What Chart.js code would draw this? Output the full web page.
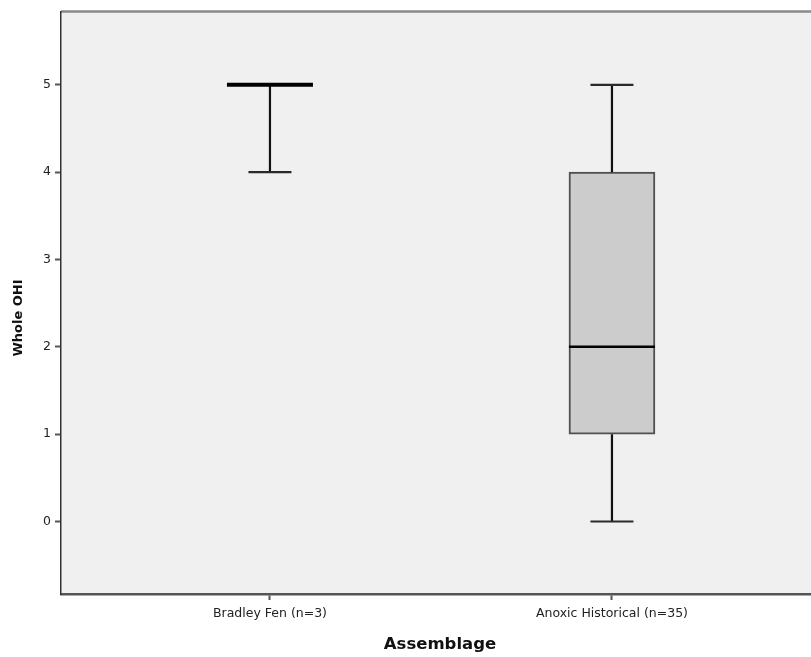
<!DOCTYPE html>
<html>
<head>
<meta charset="utf-8">
<script src="https://cdn.jsdelivr.net/npm/chart.js@4/dist/chart.umd.min.js"></script>
<style>
    html, body { margin: 0; padding: 0; background: #fff; }
    #wrap { width: 811px; height: 657px; }
</style>
</head>
<body>
<div id="wrap"><canvas id="ohiChart" width="811" height="657"></canvas></div>
<script>
/* ------- 数据 ------- */
const categories = ['Bradley Fen (n=3)', 'Anoxic Historical (n=35)'];
const whiskerLow = [4, 0];
const q1Values = [5, 1];
const medianValues = [5, 2];
const q3Values = [5, 4];
const whiskerHigh = [5, 5];
const yTicks = [0, 1, 2, 3, 4, 5];

const FONT = '"DejaVu Sans", sans-serif';
const BOX_W = 86;   // 箱体宽度 px
const CAP_W = 43;   // 须线端帽宽度 px

/* ------- 箱线图绘制插件 ------- */
const boxPlotPlugin = {
    id: 'boxPlot',
    beforeDraw(chart) {
        const { ctx, chartArea: a } = chart;
        ctx.save();
        ctx.fillStyle = '#f0f0f0';
        ctx.fillRect(a.left, a.top, a.right - a.left, a.bottom - a.top);
        // 顶部边框
        ctx.strokeStyle = '#8a8a8a';
        ctx.lineWidth = 2.5;
        ctx.beginPath();
        ctx.moveTo(a.left, a.top);
        ctx.lineTo(a.right, a.top);
        ctx.stroke();
        ctx.restore();
    },
    afterDatasetsDraw(chart) {
        const { ctx, scales: { x, y } } = chart;
        ctx.save();
        categories.forEach((_, i) => {
            const cx = x.getPixelForValue(i);
            const yLo = y.getPixelForValue(whiskerLow[i]);
            const yQ1 = y.getPixelForValue(q1Values[i]);
            const yMed = y.getPixelForValue(medianValues[i]);
            const yQ3 = y.getPixelForValue(q3Values[i]);
            const yHi = y.getPixelForValue(whiskerHigh[i]);

            // 须线
            ctx.strokeStyle = '#111';
            ctx.lineWidth = 2.2;
            ctx.beginPath();
            ctx.moveTo(cx, yQ3); ctx.lineTo(cx, yHi);
            ctx.moveTo(cx, yQ1); ctx.lineTo(cx, yLo);
            ctx.stroke();

            // 端帽
            ctx.strokeStyle = '#2a2a2a';
            ctx.lineWidth = 2.2;
            ctx.beginPath();
            ctx.moveTo(cx - CAP_W / 2, yHi); ctx.lineTo(cx + CAP_W / 2, yHi);
            ctx.moveTo(cx - CAP_W / 2, yLo); ctx.lineTo(cx + CAP_W / 2, yLo);
            ctx.stroke();

            // 中位数
            const flat = q1Values[i] === q3Values[i];
            ctx.strokeStyle = '#000';
            ctx.lineWidth = flat ? 4 : 2.5;
            ctx.beginPath();
            ctx.moveTo(cx - BOX_W / 2, yMed); ctx.lineTo(cx + BOX_W / 2, yMed);
            ctx.stroke();
        });

        // 坐标轴标题
        const a = chart.chartArea;
        ctx.fillStyle = '#111';
        ctx.textAlign = 'center';
        ctx.textBaseline = 'middle';
        ctx.font = 'bold 16.5px ' + FONT;
        ctx.fillText('Assemblage', (a.left + a.right) / 2 + 4, 645);
        ctx.translate(19, 318);
        ctx.rotate(-Math.PI / 2);
        ctx.font = 'bold 13px ' + FONT;
        ctx.fillText('Whole OHI', 0, 0);
        ctx.restore();
    }
};

/* ------- 图表 ------- */
const ctx = document.getElementById('ohiChart').getContext('2d');
new Chart(ctx, {
    type: 'bar',
    data: {
        datasets: [{
            data: categories.map((_, i) => ({ x: i, y: [q1Values[i], q3Values[i]] })),
            backgroundColor: '#cccccc',
            borderColor: '#505050',
            borderWidth: 2,
            borderSkipped: false,
            barThickness: BOX_W
        }]
    },
    options: {
        responsive: false,
        animation: false,
        layout: { padding: { top: 8, right: 0, left: 0, bottom: 0 } },
        plugins: { legend: { display: false }, tooltip: { enabled: false } },
        scales: {
            x: {
                type: 'linear',
                min: -0.611,
                max: 1.582,
                offset: false,
                afterFit: s => { s.height = 63; },
                afterBuildTicks: s => { s.ticks = categories.map((_, i) => ({ value: i })); },
                ticks: {
                    color: '#222',
                    padding: 6,
                    font: { family: FONT, size: 12.5 },
                    callback: v => categories[v]
                },
                grid: { offset: false, drawOnChartArea: false, drawTicks: true, tickLength: 6, tickColor: '#555', tickWidth: 2 },
                border: { color: '#555', width: 2.5 }
            },
            y: {
                min: -0.83,
                max: 5.84,
                afterFit: s => { s.width = 61; },
                afterBuildTicks: s => { s.ticks = yTicks.map(v => ({ value: v })); },
                ticks: {
                    color: '#222',
                    padding: 4,
                    font: { family: FONT, size: 12.5 }
                },
                grid: { drawOnChartArea: false, drawTicks: true, tickLength: 6, tickColor: '#555', tickWidth: 2 },
                border: { color: '#333', width: 1.5 }
            }
        }
    },
    plugins: [boxPlotPlugin]
});
</script>
</body>
</html>
